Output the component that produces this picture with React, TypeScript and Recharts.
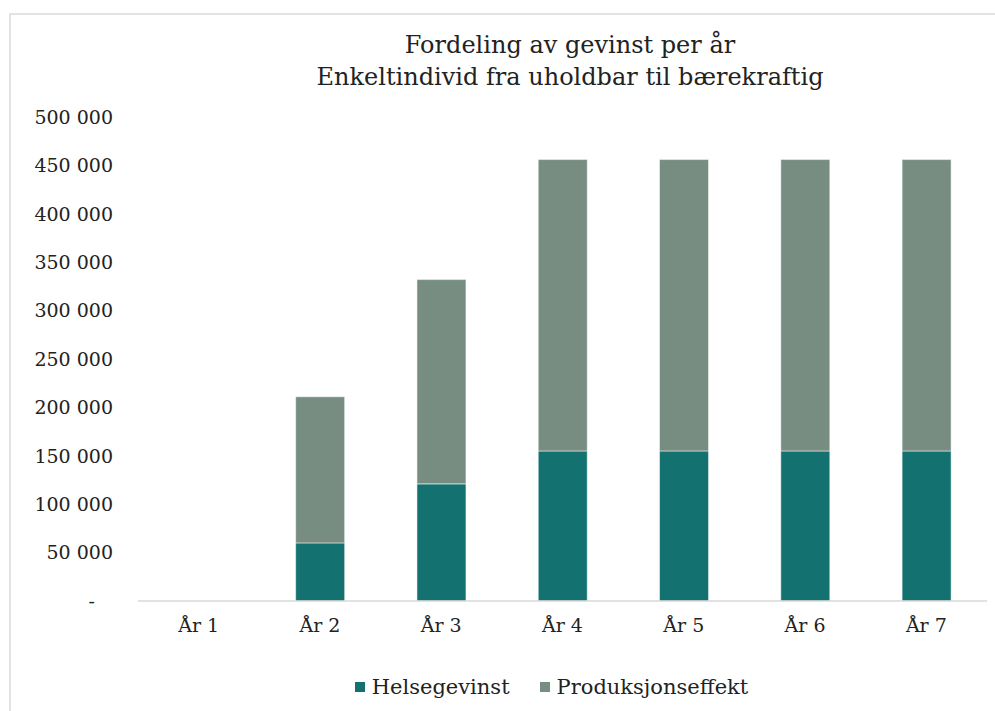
import { Bar, BarChart, Legend, XAxis, YAxis } from "recharts";

const years = ["År 1", "År 2", "År 3", "År 4", "År 5", "År 6", "År 7"];
const helsegevinst = [0, 60000, 121000, 155000, 155000, 155000, 155000];
const produksjonseffekt = [0, 151000, 211000, 301000, 301000, 301000, 301000];
const yTicks = [0, 50000, 100000, 150000, 200000, 250000, 300000, 350000, 400000, 450000, 500000];

const titleLines = ["Fordeling av gevinst per år", "Enkeltindivid fra uholdbar til bærekraftig"];

const series = [
    { key: "helse", name: "Helsegevinst", color: "#13726F" },
    { key: "prod", name: "Produksjonseffekt", color: "#778D82" }
];

const data = years.map((name, i) => ({
    name,
    helse: helsegevinst[i],
    prod: produksjonseffekt[i]
}));

const font = "'DejaVu Serif', 'Liberation Serif', serif";

function formatTick(v: number) {
    if (v === 0) return "-\u00a0\u00a0\u00a0";
    return String(v).replace(/\B(?=(\d{3})+(?!\d))/g, " ");
}

function LegendContent() {
    return (
        <div style={{ height: 40, display: "flex", justifyContent: "center", alignItems: "center", gap: 30, fontFamily: font, fontSize: 21, color: "#222", paddingLeft: 116 }}>
            {series.map((s) => (
                <div key={s.key} style={{ display: "flex", alignItems: "center", gap: 7 }}>
                    <span style={{ width: 10, height: 10, background: s.color, display: "inline-block" }} />
                    <span>{s.name}</span>
                </div>
            ))}
        </div>
    );
}

export default function App() {
    return (
        <div style={{ position: "absolute", left: 0, top: 0, width: 995, height: 711, background: "#fff", overflow: "hidden" }}>
            <div style={{ position: "absolute", left: 9, top: 13, width: 1000, height: 720, borderLeft: "2px solid #e3e3e3", borderTop: "2px solid #e3e3e3" }} />
            <div style={{ position: "absolute", left: 170, top: 29, width: 800, textAlign: "center", fontFamily: font, fontSize: 24, lineHeight: "32px", color: "#222" }}>
                {titleLines.map((t) => (
                    <div key={t}>{t}</div>
                ))}
            </div>
            <div style={{ position: "absolute", left: 0, top: 0 }}>
                <BarChart width={995} height={711} data={data} margin={{ top: 117, right: 8, bottom: 40, left: 0 }} barCategoryGap="30%">
                    <XAxis
                        dataKey="name"
                        height={30}
                        tickLine={false}
                        tickSize={0}
                        tickMargin={18}
                        axisLine={{ stroke: "#d9d9d9", strokeWidth: 1.5 }}
                        tick={{ fill: "#222", fontFamily: font, fontSize: 19 }}
                    />
                    <YAxis
                        width={138}
                        domain={[0, 500000]}
                        ticks={yTicks}
                        interval={0}
                        tickLine={false}
                        axisLine={false}
                        tickSize={0}
                        tickMargin={25}
                        tickFormatter={formatTick}
                        tick={{ fill: "#222", fontFamily: font, fontSize: 19 }}
                    />
                    <Legend verticalAlign="bottom" content={<LegendContent />} wrapperStyle={{ bottom: 4 }} />
                    {series.map((s) => (
                        <Bar
                            key={s.key}
                            dataKey={s.key}
                            name={s.name}
                            stackId="a"
                            fill={s.color}
                            stroke="#ffffff"
                            strokeWidth={0.5}
                            isAnimationActive={false}
                        />
                    ))}
                </BarChart>
            </div>
        </div>
    );
}
